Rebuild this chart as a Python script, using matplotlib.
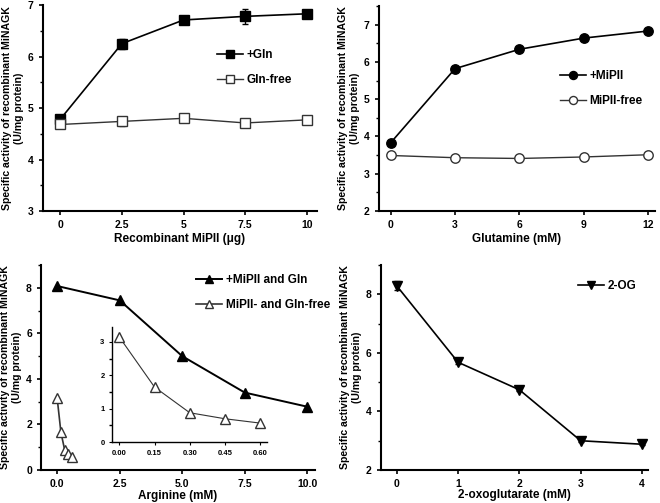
import matplotlib
matplotlib.use('Agg')
import matplotlib.pyplot as plt
from matplotlib.ticker import AutoMinorLocator

plt.rcParams['font.family'] = ['Liberation Sans', 'DejaVu Sans']
plt.rcParams['font.weight'] = 'bold'

# ---- data ----
mipii_ug = [0, 2.5, 5, 7.5, 10]
gln_plus = [4.78, 6.25, 6.71, 6.78, 6.83]
gln_plus_err = [0.09, 0.10, 0.07, 0.14, 0.06]
gln_free = [4.68, 4.74, 4.80, 4.71, 4.77]
gln_free_err = [0.06, 0.09, 0.06, 0.06, 0.04]

glutamine_mm = [0, 3, 6, 9, 12]
mipii_plus = [3.83, 5.82, 6.34, 6.64, 6.83]
mipii_plus_err = [0.06, 0.04, 0.04, 0.06, 0.04]
mipii_free = [3.49, 3.43, 3.41, 3.45, 3.51]
mipii_free_err = [0.04, 0.08, 0.10, 0.07, 0.07]

arg_mm = [0, 2.5, 5.0, 7.5, 10.0]
arg_plus = [8.08, 7.45, 5.0, 3.4, 2.78]
arg_free_mm = [0, 0.15, 0.30, 0.45, 0.60]
arg_free = [3.15, 1.65, 0.88, 0.70, 0.57]

og_mm = [0, 1, 2, 3, 4]
og_act = [8.29, 5.68, 4.74, 3.0, 2.88]
og_err = [0.15, 0.06, 0.05, 0.06, 0.04]

YLABEL = 'Specific activity of recombinant MiNAGK\n(U/mg protein)'
LFS = 7.6

fig = plt.figure(figsize=(6.6, 5.03), dpi=100)


def style(ax, fs=7.5):
    for s in ['top', 'right']:
        ax.spines[s].set_visible(False)
    for s in ['left', 'bottom']:
        ax.spines[s].set_linewidth(1.5)
    ax.tick_params(direction='out', length=3, width=1.2, labelsize=fs)
    ax.tick_params(which='minor', axis='y', direction='out', length=2, width=1)
    ax.yaxis.set_minor_locator(AutoMinorLocator(2))
    ax.tick_params(which='minor', axis='x', bottom=False)


def leg(ax, loc):
    ax.legend(loc='upper left', bbox_to_anchor=loc, frameon=False, fontsize=8.5,
              handlelength=2.2, handletextpad=0.3, labelspacing=1.1, borderaxespad=0,
              markerscale=0.85)


def series(ax, x, y, err, marker, filled, lw, label, ms=6.8):
    fc = 'black' if filled else 'white'
    col = 'black' if filled else '#333333'
    if err is not None:
        ax.errorbar(x, y, yerr=err, fmt='none', ecolor=col, capsize=2, elinewidth=1, zorder=2)
    ax.plot(x, y, color=col, marker=marker, ms=ms, mfc=fc, mec=col, lw=lw, label=label, zorder=3)


# ---- panel 1 ----
ax1 = fig.add_axes([0.065, 0.5805, 0.415, 0.4095])
series(ax1, mipii_ug, gln_plus, gln_plus_err, 's', True, 1.2, '+Gln')
series(ax1, mipii_ug, gln_free, gln_free_err, 's', False, 1.0, 'Gln-free')
ax1.set_xlim(-0.7, 10.4)
ax1.set_ylim(3, 7)
ax1.set_xticks(mipii_ug)
ax1.set_xticklabels(['0', '2.5', '5', '7.5', '10'])
ax1.set_yticks([3, 4, 5, 6, 7])
ax1.set_xlabel('Recombinant MiPII (\u03bcg)', fontsize=8.5, fontweight='bold', labelpad=2)
ax1.set_ylabel(YLABEL, fontsize=LFS, fontweight='bold', labelpad=3)
style(ax1)
leg(ax1, (0.62, 0.81))

# ---- panel 2 ----
ax2 = fig.add_axes([0.574, 0.5805, 0.418, 0.4075])
series(ax2, glutamine_mm, mipii_plus, mipii_plus_err, 'o', True, 1.2, '+MiPII')
series(ax2, glutamine_mm, mipii_free, mipii_free_err, 'o', False, 1.0, 'MiPII-free')
ax2.set_xlim(-0.55, 12.3)
ax2.set_ylim(2, 7.5)
ax2.set_xticks(glutamine_mm)
ax2.set_yticks([2, 3, 4, 5, 6, 7])
ax2.set_xlabel('Glutamine (mM)', fontsize=8.5, fontweight='bold', labelpad=2)
ax2.set_ylabel(YLABEL, fontsize=LFS, fontweight='bold', labelpad=3)
style(ax2)
leg(ax2, (0.64, 0.71))

# ---- panel 3 ----
ax3 = fig.add_axes([0.062, 0.0656, 0.415, 0.4074])
series(ax3, arg_mm, arg_plus, None, '^', True, 1.4, '+MiPII and Gln', ms=7)
series(ax3, arg_free_mm, arg_free, None, '^', False, 1.2, 'MiPII- and Gln-free', ms=7)
ax3.set_xlim(-0.65, 10.3)
ax3.set_ylim(0, 9)
ax3.set_xticks(arg_mm)
ax3.set_xticklabels(['0.0', '2.5', '5.0', '7.5', '10.0'])
ax3.set_yticks([0, 2, 4, 6, 8])
ax3.set_xlabel('Arginine (mM)', fontsize=8.5, fontweight='bold', labelpad=1)
ax3.set_ylabel(YLABEL, fontsize=LFS, fontweight='bold', labelpad=3)
style(ax3)
leg(ax3, (0.55, 0.98))

# inset (transparent background)
axi = fig.add_axes([0.170, 0.121, 0.235, 0.229])
axi.patch.set_alpha(0)
axi.plot(arg_free_mm, arg_free, color='#333333', marker='^', ms=6.5, mfc='white', mec='#333333',
         lw=0.8)
axi.set_xlim(-0.03, 0.63)
axi.set_ylim(0, 3.45)
axi.set_xticks(arg_free_mm)
axi.set_xticklabels(['0.00', '0.15', '0.30', '0.45', '0.60'])
axi.set_yticks([0, 1, 2, 3])
style(axi, fs=5.5)
for s in ['left', 'bottom']:
    axi.spines[s].set_linewidth(1.0)
axi.tick_params(length=2, width=0.8)

# ---- panel 4 ----
ax4 = fig.add_axes([0.577, 0.0656, 0.405, 0.4074])
series(ax4, og_mm, og_act, og_err, 'v', True, 1.2, '2-OG', ms=7)
ax4.set_xlim(-0.26, 4.1)
ax4.set_ylim(2, 9)
ax4.set_xticks(og_mm)
ax4.set_yticks([2, 4, 6, 8])
ax4.set_xlabel('2-oxoglutarate (mM)', fontsize=8.5, fontweight='bold', labelpad=0)
ax4.set_ylabel(YLABEL, fontsize=LFS, fontweight='bold', labelpad=3)
style(ax4)
leg(ax4, (0.72, 0.95))

fig.savefig('out.png', dpi=100)
